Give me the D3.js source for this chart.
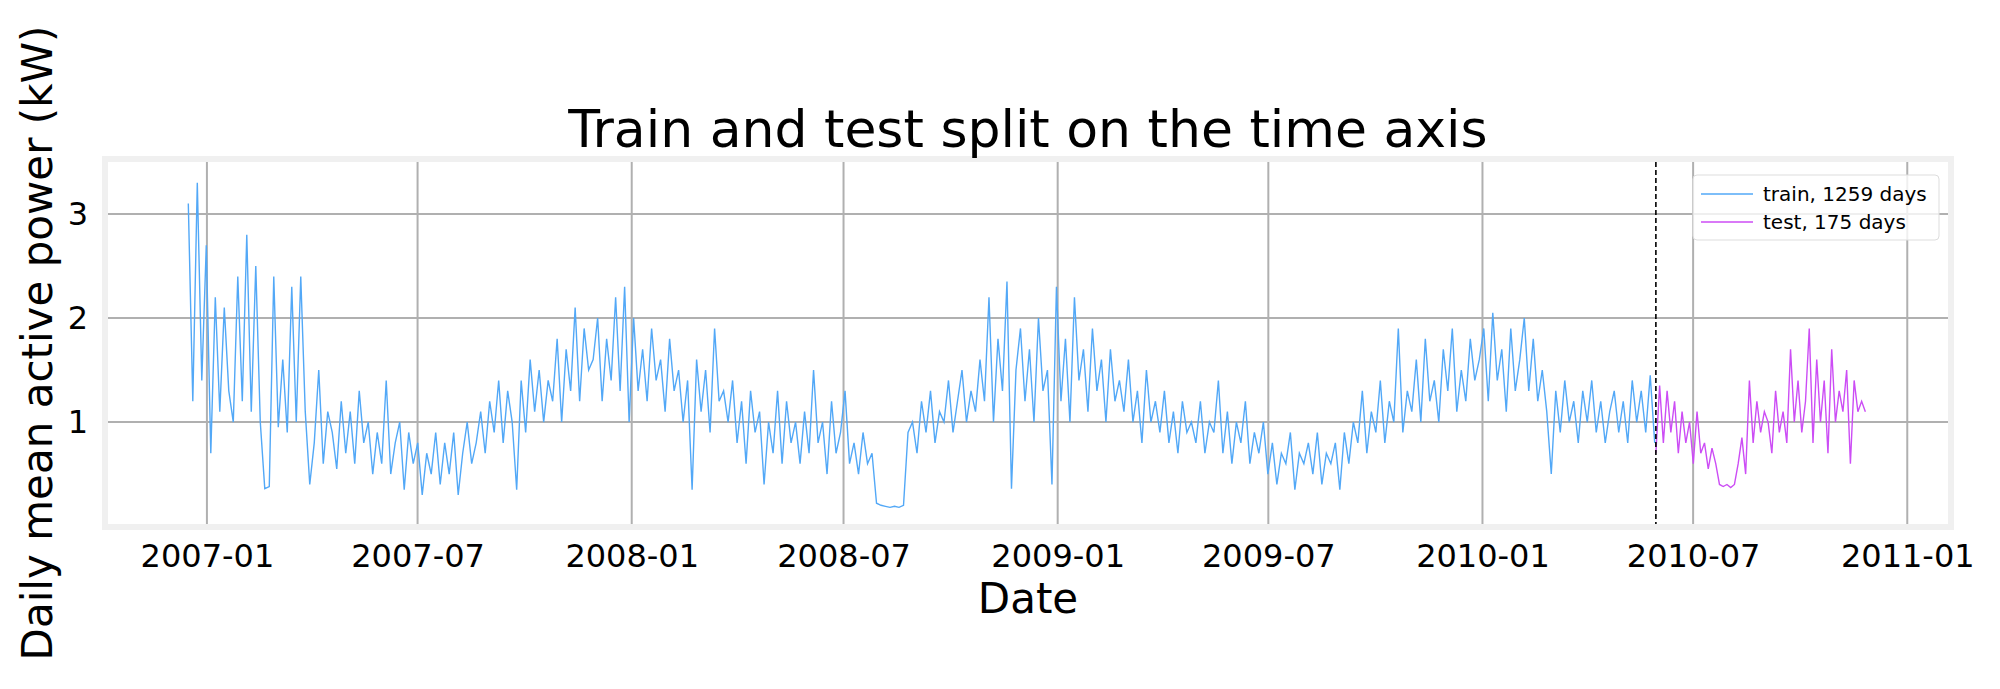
<!DOCTYPE html>
<html>
<head>
<meta charset="utf-8">
<script src="https://cdn.jsdelivr.net/npm/d3@7"></script>
<style>
body { margin: 0; background: #fff; font-family: "DejaVu Sans", sans-serif; }
</style>
</head>
<body>
<svg id="chart" width="2000" height="689"></svg>
<script>
var trainStart = "2006-12-16", trainEnd = "2010-05-29";
var testStart = "2010-05-30", testEnd = "2010-11-26";
var trainValues = [
  3.1,1.2,3.3,1.4,
  2.7,0.7,2.2,1.1,2.1,1.3,1.0,2.4,
  1.2,2.8,1.1,2.5,1.0,0.36,0.38,
  2.4,0.95,1.6,0.9,2.3,1.0,2.4,1.1,
  0.4,0.8,1.5,0.6,1.1,0.9,0.55,
  1.2,0.7,1.1,0.6,1.3,0.8,1.0,0.5,
  0.9,0.6,1.4,0.5,0.8,1.0,0.35,0.9,
  0.6,0.8,0.3,0.7,0.5,0.9,0.4,0.8,
  0.5,0.9,0.3,0.7,1.0,0.6,0.8,1.1,
  0.7,1.2,0.9,1.4,0.8,1.3,1.0,0.35,
  1.4,0.9,1.6,1.1,1.5,1.0,1.4,1.2,
  1.8,1.0,1.7,1.3,2.1,1.2,1.9,1.5,
  1.6,2.0,1.2,1.8,1.4,2.2,1.3,2.3,
  1.0,2.0,1.3,1.7,1.2,1.9,1.4,1.6,
  1.1,1.8,1.3,1.5,1.0,1.4,0.35,
  1.6,1.1,1.5,0.9,1.9,1.2,1.3,1.0,
  1.4,0.8,1.2,0.6,1.3,0.9,1.1,0.4,
  1.0,0.7,1.3,0.6,1.2,0.8,1.0,0.6,
  1.1,0.7,1.5,0.8,1.0,0.5,1.2,0.7,
  0.9,1.3,0.6,0.8,0.5,0.9,0.6,0.7,
  0.22,0.2,0.19,0.18,0.19,0.18,0.2,0.9,
  1.0,0.7,1.2,0.9,1.3,0.8,1.1,1.0,
  1.4,0.9,1.2,1.5,1.0,1.3,1.1,1.6,
  1.2,2.2,1.0,1.8,1.3,2.35,0.36,1.5,
  1.9,1.2,1.7,1.0,2.0,1.3,1.5,0.4,
  2.3,1.2,1.8,1.0,2.2,1.4,1.7,1.1,
  1.9,1.3,1.6,1.0,1.7,1.2,1.4,
  1.1,1.6,1.0,1.3,0.8,1.5,1.0,1.2,
  0.9,1.3,0.8,1.1,0.7,1.2,0.9,1.0,
  0.8,1.2,0.7,1.0,0.9,1.4,0.7,1.1,
  0.6,1.0,0.8,1.2,0.6,0.9,0.7,1.0,
  0.5,0.8,0.4,0.7,0.6,0.9,0.35,0.7,
  0.6,0.8,0.5,0.9,0.4,0.7,0.6,0.8,
  0.35,0.9,0.6,1.0,0.8,1.3,0.7,1.1,
  0.9,1.4,0.8,1.2,1.0,1.9,0.9,1.3,
  1.1,1.6,1.0,1.8,1.2,1.4,1.0,1.7,
  1.3,1.9,1.1,1.5,1.2,1.8,1.4,1.6,
  1.9,1.2,2.05,1.4,1.7,1.1,1.9,1.3,
  1.6,2.0,1.3,1.8,1.2,1.5,1.1,
  0.5,1.3,0.9,1.4,1.0,1.2,0.8,1.3,
  1.0,1.4,0.9,1.2,0.8,1.1,1.3,0.9,
  1.2,0.8,1.4,1.0,1.3,0.9,1.45,0.8
];
var testValues = [
  0.7,1.35,0.8,1.3,0.9,1.2,0.7,1.1,0.8,1.0,
  0.6,1.1,0.7,0.8,0.55,0.75,0.6,0.4,0.38,0.4,
  0.37,0.4,0.6,0.85,0.5,1.4,0.8,1.2,0.9,1.1,
  1.0,0.7,1.3,0.9,1.1,0.8,1.7,1.0,1.4,0.9,
  1.2,1.9,0.8,1.6,1.0,1.4,0.7,1.7,1.0,1.3,
  1.1,1.5,0.6,1.4,1.1,1.2,1.1
];
var legendLabels = ["train, 1259 days", "test, 175 days"];
var colors = ["#52a8f7", "#cc4df5"];
var yTicks = [1, 2, 3];

var parse = d3.timeParse("%Y-%m-%d");
function toSeries(vals, a, b) {
  var idx = d3.scaleLinear().domain([0, vals.length - 1]).range([parse(a).getTime(), parse(b).getTime()]);
  return vals.map(function(v, i) { return {date: new Date(idx(i)), value: v}; });
}
var train = toSeries(trainValues, trainStart, trainEnd);
var test = toSeries(testValues, testStart, testEnd);

var m = {left: 108, right: 52, top: 162, bottom: 165};
var W = 2000, H = 689;
var svg = d3.select("#chart");

var x = d3.scaleTime().domain([parse("2006-10-08"), parse("2011-02-05")]).range([m.left, W - m.right]);
var y = d3.scaleLinear().domain([0.02, 3.5]).range([H - m.bottom, m.top]);

// frame
svg.append("rect")
  .attr("x", m.left - 3).attr("y", m.top - 3)
  .attr("width", W - m.right - m.left + 6).attr("height", H - m.bottom - m.top + 6)
  .attr("fill", "none").attr("stroke", "#f0f0f0").attr("stroke-width", 6);

// grid
var xTicks = d3.timeMonth.every(6).range(parse("2007-01-01"), parse("2011-01-02"));
svg.append("g").selectAll("line").data(xTicks).enter().append("line")
  .attr("x1", x).attr("x2", x).attr("y1", m.top).attr("y2", H - m.bottom)
  .attr("stroke", "#b0b0b0").attr("stroke-width", 2);
svg.append("g").selectAll("line").data(yTicks).enter().append("line")
  .attr("x1", m.left).attr("x2", W - m.right).attr("y1", y).attr("y2", y)
  .attr("stroke", "#b0b0b0").attr("stroke-width", 2);

// axes (labels only, matplotlib style)
var xAxis = svg.append("g").attr("transform", "translate(0," + (H - m.bottom) + ")")
  .call(d3.axisBottom(x).tickValues(xTicks).tickFormat(d3.timeFormat("%Y-%m")).tickSize(0).tickPadding(20));
var yAxis = svg.append("g").attr("transform", "translate(" + m.left + ",0)")
  .call(d3.axisLeft(y).tickValues(yTicks).tickFormat(d3.format("d")).tickSize(0).tickPadding(20));
[xAxis, yAxis].forEach(function(a) {
  a.select(".domain").remove();
  a.selectAll("text").attr("font-size", 32).attr("font-family", "DejaVu Sans").attr("fill", "#000");
});

// lines
var line = d3.line().x(function(d) { return x(d.date); }).y(function(d) { return y(d.value); });
svg.append("path").datum(train).attr("d", line).attr("fill", "none").attr("stroke", colors[0]).attr("stroke-width", 1.4);
svg.append("path").datum(test).attr("d", line).attr("fill", "none").attr("stroke", colors[1]).attr("stroke-width", 1.4);

// split marker
svg.append("line")
  .attr("x1", x(parse(testStart))).attr("x2", x(parse(testStart)))
  .attr("y1", m.top).attr("y2", H - m.bottom)
  .attr("stroke", "#000").attr("stroke-width", 1.6).attr("stroke-dasharray", "5,3");

// titles
svg.append("text").attr("x", (m.left + W - m.right) / 2).attr("y", 147)
  .attr("text-anchor", "middle").attr("font-size", 52).text("Train and test split on the time axis");
svg.append("text").attr("x", (m.left + W - m.right) / 2).attr("y", 613)
  .attr("text-anchor", "middle").attr("font-size", 42).text("Date");
svg.append("text").attr("transform", "translate(52," + ((m.top + H - m.bottom) / 2) + ") rotate(-90)")
  .attr("text-anchor", "middle").attr("font-size", 42).text("Daily mean active power (kW)");

// legend
var lg = svg.append("g").attr("transform", "translate(1693,175)");
lg.append("rect").attr("width", 246).attr("height", 65).attr("rx", 4)
  .attr("fill", "#fff").attr("fill-opacity", 0.8).attr("stroke", "#ddd");
lg.selectAll("line.k").data(legendLabels).enter().append("line")
  .attr("x1", 8).attr("x2", 60)
  .attr("y1", function(d, i) { return 19 + i * 28; }).attr("y2", function(d, i) { return 19 + i * 28; })
  .attr("stroke", function(d, i) { return colors[i]; }).attr("stroke-width", 1.4);
lg.selectAll("text").data(legendLabels).enter().append("text")
  .attr("x", 70).attr("y", function(d, i) { return 26 + i * 28; })
  .attr("font-size", 20).text(function(d) { return d; });
</script>
</body>
</html>
